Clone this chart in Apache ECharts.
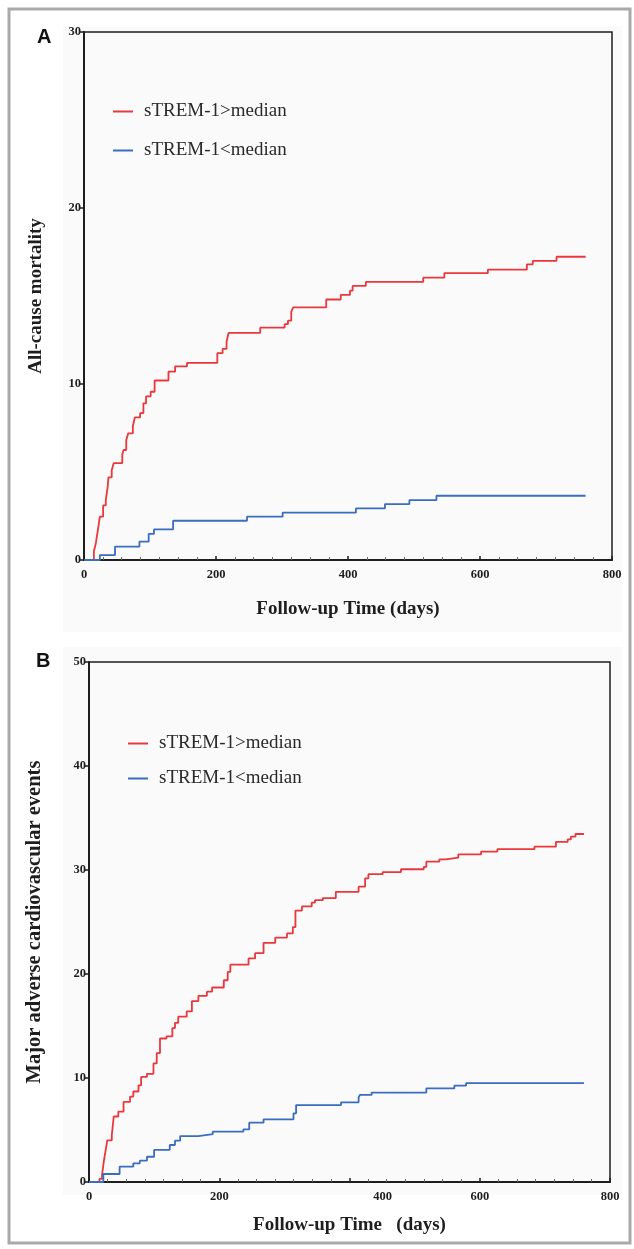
<!DOCTYPE html>
<html>
<head>
<meta charset="utf-8">
<script src="https://cdn.jsdelivr.net/npm/echarts@6/dist/echarts.min.js"></script>
<style>
  html, body { margin: 0; padding: 0; background: #fff; }
  #chart { width: 634px; height: 1249px; }
</style>
</head>
<body>
<div id="chart"></div>
<script>
// Panel A: all-cause mortality, [day, cumulative events]
const mortalityHigh = [[0,0],[15,0.5],[18,0.97],[21,1.7],[24,2.46],[29,3.1],[33,3.4],[36,4.2],[37,4.7],[42,5.1],[45,5.5],[58,6.0],[60,6.25],[64,6.8],[67,7.2],[74,7.6],[77,8.1],[85,8.35],[90,8.9],[94,9.3],[101,9.56],[107,10.2],[128,10.7],[138,11.0],[156,11.2],[202,11.75],[210,12.0],[216,12.4],[219,12.9],[267,13.2],[304,13.4],[309,13.6],[314,14.1],[317,14.35],[367,14.8],[389,15.06],[403,15.3],[407,15.57],[427,15.8],[514,16.04],[546,16.3],[612,16.5],[671,16.8],[680,17.0],[716,17.23],[760,17.23]];
const mortalityLow = [[0,0],[24,0.28],[47,0.76],[84,1.04],[98,1.48],[106,1.74],[135,2.23],[247,2.46],[301,2.69],[412,2.93],[456,3.18],[493,3.4],[534,3.65],[760,3.65]];

// Panel B: major adverse cardiovascular events
const maceHigh = [[0,0],[16,0.3],[20,0.67],[23,2.1],[26,3.2],[28,4.0],[35,4.5],[38,6.3],[45,6.76],[53,7.7],[63,8.2],[68,8.7],[76,9.3],[80,10.1],[89,10.4],[99,11.4],[104,12.4],[109,13.8],[119,14.0],[128,14.8],[132,15.3],[137,15.9],[150,16.4],[158,17.4],[168,17.9],[181,18.3],[189,18.7],[207,19.4],[213,20.2],[217,20.9],[245,21.5],[255,22.0],[268,23.0],[286,23.5],[304,23.9],[313,24.5],[317,26.1],[327,26.5],[342,26.86],[347,27.1],[359,27.3],[379,27.9],[414,28.4],[424,29.2],[429,29.6],[451,29.8],[479,30.07],[514,30.3],[518,30.8],[538,31.03],[548,31.2],[567,31.5],[602,31.76],[627,32.0],[684,32.24],[717,32.7],[735,32.95],[740,33.2],[747,33.46],[760,33.46]];
const maceLow = [[0,0],[22,0.77],[47,1.47],[68,1.8],[78,2.05],[89,2.43],[100,3.08],[124,3.56],[132,3.97],[140,4.42],[168,4.6],[190,4.84],[237,5.06],[246,5.7],[268,6.03],[314,6.6],[318,7.4],[387,7.66],[414,8.14],[416,8.37],[434,8.6],[518,9.0],[561,9.26],[579,9.5],[760,9.5]];

const groupNames = ['sTREM-1>median', 'sTREM-1<median'];
const xTitles = ['Follow-up Time (days)', 'Follow-up Time   (days)'];
const yTitles = ['All-cause mortality', 'Major adverse cardiovascular events'];
const yMax = [30, 50];

const RED = '#e8383d';
const BLUE = '#3a6cc0';
const INK = '#1e1e1e';
const SERIF = '"Liberation Serif", "DejaVu Serif", serif';

const chart = echarts.init(document.getElementById('chart'));

const xAxisBase = (gridIndex, title, gap) => ({
  type: 'value', gridIndex, min: 0, max: 800, interval: 200,
  name: title, nameLocation: 'middle', nameGap: gap,
  nameTextStyle: { fontFamily: SERIF, fontWeight: 'bold', fontSize: 19, color: INK },
  axisLine: { lineStyle: { color: INK, width: 2 } },
  axisTick: { inside: true, length: 4, lineStyle: { color: INK, width: 1.5 } },
  minorTick: { show: true, splitNumber: 7, length: 3, lineStyle: { color: '#666' } },
  splitLine: { show: false },
  axisLabel: { fontFamily: SERIF, fontWeight: 'bold', fontSize: 12.5, color: INK, margin: 8 }
});

const yAxisBase = (gridIndex, title, gap, max, size) => ({
  type: 'value', gridIndex, min: 0, max, interval: 10,
  name: title, nameLocation: 'middle', nameGap: gap, nameRotate: 90,
  nameTextStyle: { fontFamily: SERIF, fontWeight: 'bold', fontSize: size, color: INK },
  axisLine: { show: true, lineStyle: { color: INK, width: 2 } },
  axisTick: { show: true, length: 5, lineStyle: { color: INK, width: 1.5 } },
  splitLine: { show: false },
  axisLabel: { fontFamily: SERIF, fontWeight: 'bold', fontSize: 12.5, color: INK, margin: 3 }
});

const xA = xAxisBase(0, xTitles[0], 40);
const xB = xAxisBase(1, xTitles[1], 34);
// the 400 label in panel B sits right of its tick in the original
xB.axisLabel.formatter = v => v === 400 ? '{shift|400}' : String(v);
xB.axisLabel.rich = { shift: { fontFamily: SERIF, fontWeight: 'bold', fontSize: 12.5, color: INK, padding: [0, 0, 0, 66] } };

const stepSeries = (name, data, color, xi) => ({
  name, type: 'line', step: 'end', data, xAxisIndex: xi, yAxisIndex: xi,
  symbol: 'none', color, lineStyle: { color, width: 1.8 }, z: 3
});

const legendBase = (left, top, gap) => ({
  orient: 'vertical', left, top, itemGap: gap, padding: 0,
  icon: 'rect', itemWidth: 20, itemHeight: 2, selectedMode: false,
  data: groupNames,
  textStyle: { fontFamily: SERIF, fontSize: 19, color: '#2a2a2a', padding: [0, 0, 0, 6] }
});

chart.setOption({
  animation: false,
  backgroundColor: '#fff',
  graphic: [
    { type: 'rect', shape: { x: 63, y: 26, width: 559, height: 606 }, style: { fill: '#fafafa' }, z: -10 },
    { type: 'rect', shape: { x: 63, y: 647, width: 559, height: 548 }, style: { fill: '#fafafa' }, z: -10 },
    { type: 'rect', shape: { x: 9, y: 9, width: 621, height: 1234 }, style: { fill: 'none', stroke: '#a9a9a9', lineWidth: 3 }, z: 10 },
    { type: 'text', left: 37, top: 27, style: { text: 'A', font: 'bold 20px "Liberation Sans", Arial, sans-serif', fill: '#111' } },
    { type: 'text', left: 36, top: 651, style: { text: 'B', font: 'bold 20px "Liberation Sans", Arial, sans-serif', fill: '#111' } }
  ],
  grid: [
    { left: 84, top: 32, width: 528, height: 528, show: true, borderColor: INK, borderWidth: 1.5, backgroundColor: 'transparent' },
    { left: 89, top: 662, width: 521, height: 520, show: true, borderColor: INK, borderWidth: 1.5, backgroundColor: 'transparent' }
  ],
  legend: [legendBase(113, 102, 20), legendBase(128, 734, 16)],
  xAxis: [xA, xB],
  yAxis: [yAxisBase(0, yTitles[0], 38, yMax[0], 19), yAxisBase(1, yTitles[1], 44, yMax[1], 20.5)],
  series: [
    stepSeries(groupNames[0], mortalityHigh, RED, 0),
    stepSeries(groupNames[1], mortalityLow, BLUE, 0),
    stepSeries(groupNames[0], maceHigh, RED, 1),
    stepSeries(groupNames[1], maceLow, BLUE, 1)
  ]
});
</script>
</body>
</html>
